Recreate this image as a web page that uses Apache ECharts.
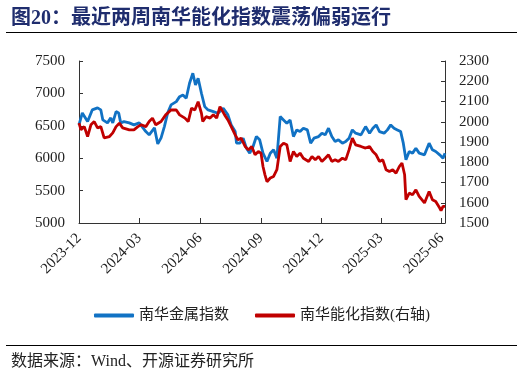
<!DOCTYPE html>
<html><head><meta charset="utf-8">
<script src="https://cdn.jsdelivr.net/npm/echarts@6/dist/echarts.min.js"></script>
<style>html,body{margin:0;padding:0;background:#fff}#c{width:524px;height:375px}</style>
</head><body><div id="c"></div>
<script>
const metalDates = ['2023-12-01','2023-12-06','2023-12-14','2023-12-21','2023-12-29','2024-01-03','2024-01-06','2024-01-13','2024-01-18','2024-01-21','2024-01-26','2024-01-30','2024-02-02','2024-02-07','2024-02-15','2024-02-22','2024-03-01','2024-03-11','2024-03-16','2024-03-24','2024-03-29','2024-04-03','2024-04-08','2024-04-13','2024-04-18','2024-04-26','2024-05-01','2024-05-06','2024-05-11','2024-05-16','2024-05-21','2024-05-25','2024-05-29','2024-06-03','2024-06-08','2024-06-13','2024-06-21','2024-06-28','2024-07-06','2024-07-13','2024-07-18','2024-07-24','2024-07-26','2024-07-31','2024-08-05','2024-08-10','2024-08-15','2024-08-20','2024-08-25','2024-08-30','2024-09-04','2024-09-10','2024-09-15','2024-09-20','2024-09-25','2024-09-30','2024-10-05','2024-10-10','2024-10-15','2024-10-20','2024-10-25','2024-10-30','2024-11-04','2024-11-10','2024-11-15','2024-11-20','2024-11-27','2024-12-02','2024-12-07','2024-12-12','2024-12-17','2024-12-22','2024-12-27','2025-01-02','2025-01-07','2025-01-12','2025-01-17','2025-01-22','2025-01-25','2025-01-30','2025-02-06','2025-02-12','2025-02-17','2025-02-22','2025-02-27','2025-03-06','2025-03-11','2025-03-16','2025-03-21','2025-03-26','2025-03-31','2025-04-04','2025-04-08','2025-04-13','2025-04-18','2025-04-23','2025-04-28','2025-05-06','2025-05-13','2025-05-18','2025-05-23','2025-05-29','2025-06-03','2025-06-06'];
const metalValues = [6514,6699,6565,6745,6776,6745,6591,6545,6622,6545,6719,6699,6545,6565,6545,6514,6545,6411,6360,6468,6220,6314,6488,6699,6822,6873,6950,6976,6925,7156,7310,7130,7233,7002,6796,6745,6719,6694,6771,6668,6514,6411,6232,6232,6309,6155,6078,6180,6334,6283,6078,5949,6078,6129,6001,6642,6591,6540,6591,6334,6437,6411,6463,6437,6232,6309,6334,6386,6360,6463,6334,6257,6283,6232,6257,6309,6437,6386,6386,6360,6488,6386,6463,6514,6411,6386,6437,6514,6463,6437,6411,6232,5975,6103,6078,6155,6078,6052,6232,6129,6103,6052,6001,6078];
const energyDates = ['2023-12-01','2023-12-04','2023-12-09','2023-12-14','2023-12-19','2023-12-24','2023-12-29','2024-01-03','2024-01-08','2024-01-16','2024-01-21','2024-01-26','2024-01-31','2024-02-05','2024-02-15','2024-02-22','2024-02-28','2024-03-04','2024-03-11','2024-03-16','2024-03-21','2024-03-26','2024-04-03','2024-04-10','2024-04-18','2024-04-21','2024-04-26','2024-05-01','2024-05-09','2024-05-14','2024-05-19','2024-05-24','2024-05-29','2024-06-03','2024-06-05','2024-06-10','2024-06-16','2024-06-21','2024-06-26','2024-07-01','2024-07-03','2024-07-08','2024-07-13','2024-07-18','2024-07-24','2024-07-28','2024-08-02','2024-08-08','2024-08-13','2024-08-18','2024-08-23','2024-08-28','2024-09-01','2024-09-04','2024-09-07','2024-09-10','2024-09-15','2024-09-20','2024-09-23','2024-09-25','2024-09-30','2024-10-05','2024-10-10','2024-10-15','2024-10-20','2024-10-25','2024-10-30','2024-11-04','2024-11-12','2024-11-17','2024-11-22','2024-11-27','2024-12-02','2024-12-07','2024-12-12','2024-12-17','2024-12-22','2024-12-27','2025-01-02','2025-01-07','2025-01-12','2025-01-17','2025-01-22','2025-01-30','2025-02-06','2025-02-12','2025-02-17','2025-02-22','2025-02-27','2025-03-04','2025-03-09','2025-03-14','2025-03-19','2025-03-24','2025-03-29','2025-04-02','2025-04-06','2025-04-08','2025-04-13','2025-04-18','2025-04-23','2025-04-28','2025-05-06','2025-05-13','2025-05-18','2025-05-23','2025-05-29','2025-05-31','2025-06-03','2025-06-06'];
const energyValues = [1993,1960,1976,1927,1985,2001,1970,1976,1920,1927,1945,1976,1993,1970,1960,1960,1976,1985,1976,2001,2018,1985,2001,2034,2058,2058,2058,2034,2018,2001,2067,2058,2099,2042,2001,2025,2018,2034,2018,2075,2083,2034,2009,1976,1935,1911,1919,1878,1861,1878,1837,1853,1845,1779,1738,1704,1722,1730,1730,1763,1878,1894,1886,1804,1853,1828,1845,1820,1804,1828,1812,1828,1804,1820,1837,1804,1812,1804,1820,1812,1861,1919,1886,1878,1870,1878,1853,1837,1804,1812,1763,1754,1763,1746,1779,1796,1738,1615,1648,1639,1664,1631,1599,1656,1615,1606,1574,1561,1582,1582];
const xTickLabels = ['2023-12','2024-03','2024-06','2024-09','2024-12','2025-03','2025-06'];
const seriesNames = ['南华金属指数','南华能化指数(右轴)'];

function toTime(s){ const p = s.split('-'); return new Date(+p[0], +p[1]-1, p[2] ? +p[2] : 1).getTime(); }
const tickValues = xTickLabels.map(toTime);
const serif = "'Liberation Serif','Noto Sans CJK SC',serif";
const plain = function (v) { return String(v); };

const chart = echarts.init(document.getElementById('c'));
chart.setOption({
  animation: false,
  title: [
    {text: '图20：最近两周南华能化指数震荡偏弱运行', left: 6, top: 4,
     textStyle: {fontSize: 20, fontWeight: 'bold', color: '#1f2d6e', fontFamily: serif}},
    {text: '数据来源：Wind、开源证券研究所', left: 6, top: 349,
     textStyle: {fontSize: 16, fontWeight: 'normal', color: '#222', fontFamily: serif}}
  ],
  graphic: [
    {type: 'line', shape: {x1: 6, y1: 32.5, x2: 517, y2: 32.5}, style: {stroke: '#000', lineWidth: 1}},
    {type: 'line', shape: {x1: 6, y1: 345.5, x2: 517, y2: 345.5}, style: {stroke: '#000', lineWidth: 1}}
  ],
  legend: {
    top: 303, left: 'center', itemWidth: 40, itemHeight: 4, itemGap: 26, icon: 'roundRect',
    textStyle: {fontSize: 15, color: '#222', fontFamily: serif},
    data: seriesNames
  },
  grid: {left: 79, right: 79, top: 61, bottom: 152, containLabel: false},
  xAxis: {
    type: 'value',
    min: toTime('2023-12-01'),
    max: toTime('2025-06-06'),
    splitLine: {show: false},
    axisLine: {lineStyle: {color: '#333', width: 1}},
    axisTick: {inside: true, length: 5, customValues: tickValues, lineStyle: {color: '#333'}},
    axisLabel: {
      customValues: tickValues, rotate: 45, margin: 13, fontSize: 15, color: '#222', fontFamily: serif,
      formatter: function (v) { const i = tickValues.indexOf(v); return i >= 0 ? xTickLabels[i] : ''; }
    }
  },
  yAxis: [
    {type: 'value', min: 5000, max: 7500, interval: 500, splitLine: {show: false},
     axisLine: {show: true, lineStyle: {color: '#333'}},
     axisTick: {show: true, inside: true, length: 4, lineStyle: {color: '#333'}},
     axisLabel: {fontSize: 15, color: '#222', fontFamily: serif, margin: 14, formatter: plain}},
    {type: 'value', min: 1500, max: 2300, interval: 100, splitLine: {show: false},
     axisLine: {show: true, lineStyle: {color: '#333'}},
     axisTick: {show: true, inside: true, length: 4, lineStyle: {color: '#333'}},
     axisLabel: {fontSize: 15, color: '#222', fontFamily: serif, margin: 14, formatter: plain}}
  ],
  series: [
    {name: seriesNames[0], type: 'line', yAxisIndex: 0, showSymbol: false, symbol: 'none',
     lineStyle: {width: 2.8, color: '#1172c4'}, itemStyle: {color: '#1172c4'},
     data: metalDates.map((d, i) => [toTime(d), metalValues[i]])},
    {name: seriesNames[1], type: 'line', yAxisIndex: 1, showSymbol: false, symbol: 'none',
     lineStyle: {width: 2.8, color: '#c00000'}, itemStyle: {color: '#c00000'},
     data: energyDates.map((d, i) => [toTime(d), energyValues[i]])}
  ]
});
</script></body></html>
